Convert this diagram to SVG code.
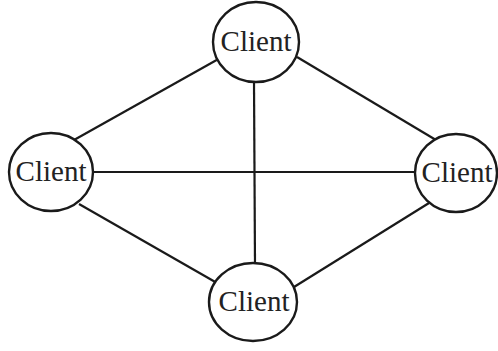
<svg xmlns="http://www.w3.org/2000/svg" width="498" height="351" viewBox="0 0 498 351">
<style>
.n{fill:#fff;stroke:#1a1a1a;stroke-width:2.4}
.t{font-family:"Liberation Serif","DejaVu Serif",serif;font-size:29px;fill:#222;text-anchor:middle}
.e{stroke:#1a1a1a;stroke-width:2.2;fill:none}
</style>
<rect width="498" height="351" fill="#fff"/>
<g id="edges">
<line class="e" x1="222" y1="57" x2="74" y2="140"/>
<line class="e" x1="297" y1="57" x2="441" y2="143"/>
<line class="e" x1="254" y1="82" x2="255" y2="266"/>
<line class="e" x1="92" y1="172" x2="416" y2="172"/>
<line class="e" x1="79" y1="204" x2="217" y2="283"/>
<line class="e" x1="429" y1="203" x2="294" y2="287"/>
</g>
<g id="top"><ellipse class="n" cx="256" cy="42" rx="43" ry="40"/><text class="t" x="256" y="51">Client</text></g>
<g id="left"><ellipse class="n" cx="51" cy="172" rx="42" ry="39"/><text class="t" x="51" y="181">Client</text></g>
<g id="right"><ellipse class="n" cx="456" cy="173" rx="41" ry="39"/><text class="t" x="457" y="182">Client</text></g>
<g id="bottom"><ellipse class="n" cx="253" cy="302" rx="44" ry="39"/><text class="t" x="254" y="311">Client</text></g>
</svg>
